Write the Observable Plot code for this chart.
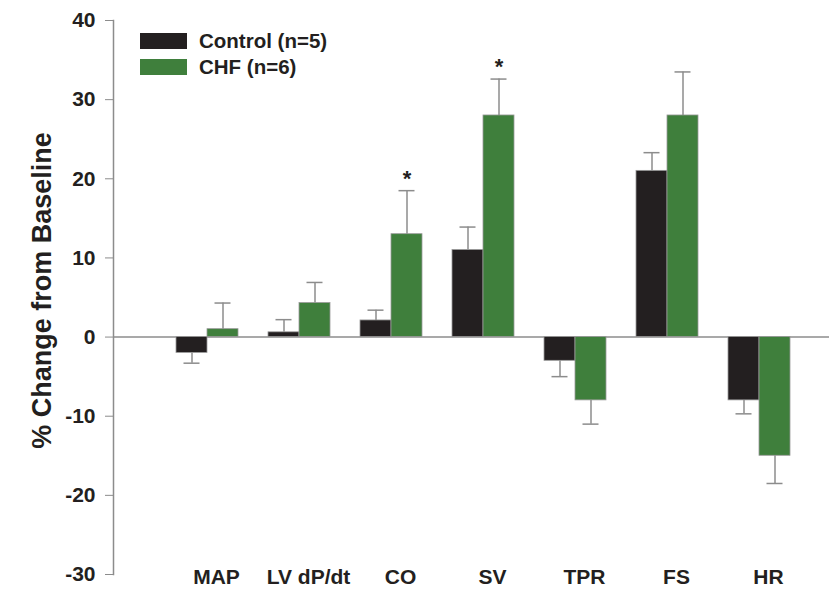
<!DOCTYPE html>
<html>
<head>
<meta charset="utf-8">
<script src="https://cdn.jsdelivr.net/npm/d3@7"></script>
<script src="https://cdn.jsdelivr.net/npm/@observablehq/plot@0.6"></script>
<style>
  html, body { margin: 0; padding: 0; background: #fff; }
  #wrap { position: relative; width: 829px; height: 590px; font-family: "Liberation Sans", Arial, sans-serif; }
  #wrap svg text { fill: #231f20; }
  .legend { position: absolute; left: 140px; top: 28px; font-weight: bold; font-size: 20.5px; color: #231f20; }
  .legend .row { display: flex; align-items: center; height: 26px; }
  .legend .sw { width: 47px; height: 16px; margin-right: 12px; }
</style>
</head>
<body>
<div id="wrap"></div>
<script>
const categories = ["MAP", "LV dP/dt", "CO", "SV", "TPR", "FS", "HR"];
const seriesNames = ["Control (n=5)", "CHF (n=6)"];
const seriesColors = ["#231f20", "#3f7f3c"];
const controlValues = [-2.0, 0.6, 2.1, 11.0, -3.0, 21.0, -8.0];
const controlErrors = [1.3, 1.6, 1.3, 2.9, 2.0, 2.3, 1.7];
const chfValues = [1.0, 4.3, 13.0, 28.0, -8.0, 28.0, -15.0];
const chfErrors = [3.3, 2.6, 5.5, 4.6, 3.0, 5.5, 3.5];
const chfSignificant = [false, false, true, true, false, false, false];
const yTicks = [-30, -20, -10, 0, 10, 20, 30, 40];

const rows = categories.map((c, i) => ({
  cat: c,
  ctrl: controlValues[i],
  ctrlTip: controlValues[i] + Math.sign(controlValues[i] || 1) * controlErrors[i],
  chf: chfValues[i],
  chfTip: chfValues[i] + Math.sign(chfValues[i] || 1) * chfErrors[i],
  sig: chfSignificant[i]
}));

const errColor = "#8c8c8c";
const half = 31;

const chart = Plot.plot({
  width: 829,
  height: 590,
  marginLeft: 113,
  marginRight: 0,
  marginTop: 20,
  marginBottom: 16,
  style: { fontFamily: "Liberation Sans, Arial, sans-serif", color: "#8c8c8c", background: "#fff" },
  x: { domain: categories, range: [174.5, 792], paddingInner: 0.33, paddingOuter: 0, axis: null },
  y: { domain: [-30, 40], axis: null },
  marks: [
    Plot.ruleY([0], { stroke: "#8c8c8c", strokeWidth: 1.5 }),
    Plot.barY(rows, { x: "cat", y1: 0, y2: "ctrl", fill: seriesColors[0], insetRight: half, stroke: "#9a9a9a", strokeWidth: 0.8 }),
    Plot.barY(rows, { x: "cat", y1: 0, y2: "chf", fill: seriesColors[1], insetLeft: half, stroke: "#9a9a9a", strokeWidth: 0.8 }),
    Plot.ruleX(rows, { x: "cat", y1: "ctrl", y2: "ctrlTip", dx: -15.5, stroke: errColor, strokeWidth: 1.5 }),
    Plot.ruleX(rows, { x: "cat", y1: "chf", y2: "chfTip", dx: 15.5, stroke: errColor, strokeWidth: 1.5 }),
    Plot.tickY(rows, { x: "cat", y: "ctrlTip", insetLeft: 7.5, insetRight: 38.5, stroke: errColor, strokeWidth: 1.5 }),
    Plot.tickY(rows, { x: "cat", y: "chfTip", insetLeft: 38.5, insetRight: 7.5, stroke: errColor, strokeWidth: 1.5 }),
    Plot.text(rows.filter(d => d.sig), { x: "cat", y: "chfTip", text: () => "*", dx: 15.5, dy: -12, fontSize: 22, fontWeight: "bold", fill: "#231f20" }),
    Plot.frame({ anchor: "left", stroke: "#8c8c8c", strokeWidth: 1.5 }),
    Plot.axisY({ ticks: yTicks, tickSize: 8, tickPadding: 10, tickFormat: d => `${d}`, fontSize: 21, fontWeight: "bold", label: null, stroke: "#8c8c8c" }),
    Plot.axisX({ tickSize: 0, tickPadding: -5, dx: 9, fontSize: 21, fontWeight: "bold", label: null }),
    Plot.text(["% Change from Baseline"], { frameAnchor: "left", textAnchor: "middle", dx: -71, dy: -7, rotate: -90, fontSize: 27, fontWeight: "bold", fill: "#231f20" })
  ]
});

const wrap = document.getElementById("wrap");
wrap.appendChild(chart);

const legend = document.createElement("div");
legend.className = "legend";
seriesNames.forEach((name, i) => {
  const row = document.createElement("div");
  row.className = "row";
  const sw = document.createElement("span");
  sw.className = "sw";
  sw.style.background = seriesColors[i];
  const label = document.createElement("span");
  label.textContent = name;
  row.appendChild(sw);
  row.appendChild(label);
  legend.appendChild(row);
});
wrap.appendChild(legend);
</script>
</body>
</html>
